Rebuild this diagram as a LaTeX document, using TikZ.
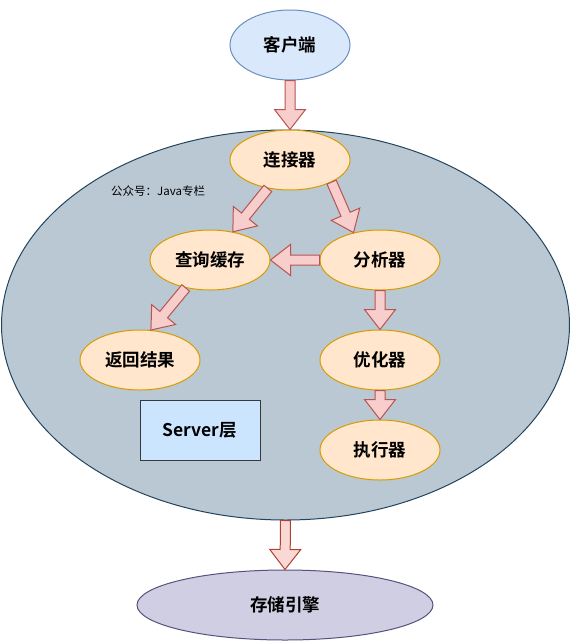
\documentclass[tikz,border=0pt]{standalone}
\usepackage{fontspec}
\setmainfont{Noto Sans CJK SC}
\newfontfamily\cjkbold{Noto Sans CJK SC Bold}
\usetikzlibrary{shapes.geometric,calc}
\definecolor{clifill}{HTML}{DAE8FC}
\definecolor{clistroke}{HTML}{6C8EBF}
\definecolor{orfill}{HTML}{FFE6CC}
\definecolor{orstroke}{HTML}{D79B00}
\definecolor{arfill}{HTML}{F8CECC}
\definecolor{arstroke}{HTML}{B85450}
\definecolor{ar2fill}{HTML}{FAD9D5}
\definecolor{ar2stroke}{HTML}{AE4132}
\definecolor{bigfill}{HTML}{BAC8D3}
\definecolor{bigstroke}{HTML}{23445D}
\definecolor{srvfill}{HTML}{CCE5FF}
\definecolor{srvstroke}{HTML}{36393D}
\definecolor{stofill}{HTML}{D0CEE2}
\definecolor{stostroke}{HTML}{56517E}
\tikzset{
  lbl/.style={font=\cjkbold\fontsize{17.5}{20}\selectfont},
  oval/.style={ellipse, draw, line width=1pt, inner sep=0pt, lbl},
  stepnode/.style={oval, fill=orfill, draw=orstroke, minimum width=120, minimum height=60},
  flexstyle/.style={fill=arfill, draw=arstroke, line width=1pt, line join=miter},
}
\newcommand\flexarr[3][]{%
  \path (#2) coordinate (fa-s) (#3) coordinate (fa-t);
  \path ($(fa-t)!20pt!(fa-s)$) coordinate (fa-h);
  \draw[flexstyle,#1] ($(fa-s)!5pt!90:(fa-t)$) -- ($(fa-h)!5pt!90:(fa-t)$)
    -- ($(fa-h)!15.5pt!90:(fa-t)$) -- (fa-t) -- ($(fa-h)!15.5pt!-90:(fa-t)$)
    -- ($(fa-h)!5pt!-90:(fa-t)$) -- ($(fa-s)!5pt!-90:(fa-t)$) -- cycle;
}
\begin{document}
\begin{tikzpicture}[x=1pt,y=-1pt]
\useasboundingbox (0,0) rectangle (571,641);
\node[ellipse, draw=bigstroke, fill=bigfill, line width=1pt, minimum width=568, minimum height=390, inner sep=0pt] (server) at (285.5,325) {};
\node[oval, fill=clifill, draw=clistroke, minimum width=120, minimum height=70] (client) at (290,45) {客户端};
\node[stepnode] (conn) at (290,160) {连接器};
\node[stepnode] (cache) at (210,260) {查询缓存};
\node[stepnode] (parser) at (380,260) {分析器};
\node[stepnode] (result) at (140,360) {返回结果};
\node[stepnode] (optim) at (380,360) {优化器};
\node[stepnode] (exec) at (380,450) {执行器};
\node[draw=srvstroke, fill=srvfill, line width=1pt, minimum width=120, minimum height=60, inner sep=0pt, lbl] (srvbox) at (200,430) {Server层};
\node[oval, fill=stofill, draw=stostroke, minimum width=296, minimum height=70] (storage) at (285,605) {存储引擎};
\node[anchor=west, inner sep=0pt, font=\fontsize{11.5}{13}\selectfont] (mark) at (111,191) {公众号：Java专栏};
\flexarr{client.south}{conn.north}
\flexarr{conn.232}{cache.51}
\flexarr{conn.-28}{parser.134}
\flexarr{parser.west}{cache.east}
\flexarr{cache.229}{result.70}
\flexarr{parser.south}{optim.north}
\flexarr{optim.south}{exec.north}
\flexarr[fill=ar2fill, draw=ar2stroke]{server.south}{storage.north}
\end{tikzpicture}
\end{document}
